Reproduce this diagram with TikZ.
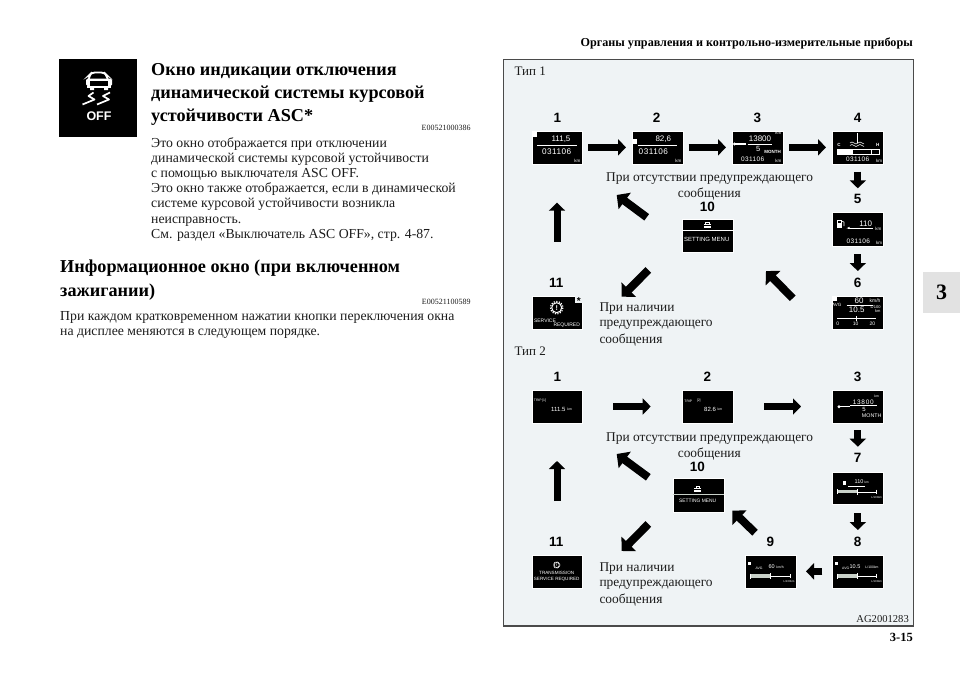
\documentclass[tikz,border=0pt]{standalone}
\usepackage{fontspec}
\setmainfont{Liberation Serif}
\newfontfamily\dfont{Liberation Sans}
\usetikzlibrary{arrows.meta}
\definecolor{panelbg}{HTML}{EFF3F5}
\definecolor{panelline}{HTML}{4A4A4A}
\definecolor{tabgrey}{HTML}{E2E2E2}
\definecolor{inktext}{HTML}{1C1C1C}
\definecolor{bargrey}{HTML}{C8D0C8}
\newcounter{dtn}
\newcommand\SZ[1]{\fontsize{#1}{#1}\selectfont}
% small white text inside a display
\newcommand\DT[4]{\stepcounter{dtn}\node[dtxt,font={\dfont\SZ{#3}}] (dt\arabic{dtn}) at (#1,#2) {#4};}
\newcommand\DTB[4]{\stepcounter{dtn}\node[dtxt,font={\dfont\bfseries\SZ{#3}}] (dt\arabic{dtn}) at (#1,#2) {#4};}
% display box by corners
\newcommand\DISP[5]{\node[dispbox,minimum width={(#4-#2)*1pt},minimum height={(#5-#3)*1pt}] (#1) at ({(#2+#4)/2},{(#3+#5)/2}) {};}
\newcommand\WRENCH[3]{\draw[white,line width=1.4] (#1,#2) -- ++(#3,0); \fill[white] (#1,#2) circle (1.6);}
\newcommand\TOOLBOX[3]{\fill[white] ({#1-4*#3},{#2-1.8*#3}) rectangle ({#1+4*#3},{#2+2.6*#3});
  \draw[white,line width=.8] ({#1-1.8*#3},{#2-1.8*#3}) -- ({#1-1.8*#3},{#2-3.2*#3}) -- ({#1+1.8*#3},{#2-3.2*#3}) -- ({#1+1.8*#3},{#2-1.8*#3});
  \draw[black,line width=.5] ({#1-4*#3},{#2+.2*#3}) -- ({#1+4*#3},{#2+.2*#3});}
\newcommand\SCALEBAR[6]{% x0 x1 x2 y fillcolor thick
  \draw[white,line width=.4] (#1,#4) -- (#3,#4);
  \fill[#5] (#1,{#4-#6/2}) rectangle (#2,{#4+#6/2});
  \draw[white,line width=.5] (#1,{#4-2.5}) -- (#1,{#4+2.5}) (#2,{#4-3}) -- (#2,{#4+3}) (#3,{#4-2}) -- (#3,{#4+2});}
\tikzset{
  dispbox/.style={rectangle,fill=black,draw=white,line width=.4pt,inner sep=0pt,outer sep=0pt},
  dtxt/.style={text=white,inner sep=0pt,outer sep=0pt},
  blockarrow/.style={line width=7pt,-{Triangle[length=8pt,width=16pt]},black},
  diagarrow/.style={line width=8pt,-{Triangle[length=10pt,width=20pt]},black},
  numlabel/.style={font={\dfont\bfseries\SZ{13.5}},text=black,inner sep=0pt,text height=9.6pt,text depth=0pt},
  bodyline/.style={anchor=base west,font=\SZ{13.75},text=inktext,inner sep=0pt},
  noteleft/.style={anchor=west,font=\SZ{13.4},text=inktext,inner sep=0pt},
  headline/.style={anchor=base west,font={\bfseries\SZ{18.2}},text=black,inner sep=0pt},
  coderef/.style={anchor=east,font=\SZ{8},text=inktext,inner sep=0pt},
}
\begin{document}
\begin{tikzpicture}[x=1pt,y=-1pt]
\useasboundingbox (0,0) rectangle (960,677);
\fill[white] (0,0) rectangle (960,677);

% page furniture
\node[anchor=base east,font={\bfseries\SZ{12.15}},inner sep=0pt] (header) at (913,47) {Органы управления и контрольно-измерительные приборы};
\node[anchor=base east,font={\bfseries\SZ{12.5}},inner sep=0pt] (pagenum) at (913,641) {3-15};
\node[rectangle,fill=tabgrey,minimum width=37pt,minimum height=41pt,inner sep=0pt,outer sep=0pt,font={\bfseries\SZ{22}}] (tab) at (941.5,292.5) {3};

% ASC OFF icon
\node[rectangle,fill=black,minimum width=78pt,minimum height=78pt,inner sep=0pt] (icon) at (98.3,98.3) {};
\draw[white,line width=1.8,rounded corners=3] (88.5,80) -- (90,74.5) -- (92,72.5) -- (104,72.5) -- (106,74.5) -- (108,80);
\fill[white,rounded corners=1.5] (86,78.5) rectangle (112,86);
\fill[black] (90,80.5) rectangle (108,86);
\fill[white] (90,86) rectangle (94,90) (104,86) rectangle (108,90);
\fill[white] (87,86) rectangle (111,88);
\draw[white,line width=1.7,line join=round] (93.5,92.5) -- (88.5,96) -- (94.5,99.5) -- (82.5,104.5);
\draw[white,line width=1.7,line join=round] (110,92.5) -- (103,96) -- (109,99.5) -- (97,104.5);
\node[font={\dfont\bfseries\SZ{12.5}},text=white,inner sep=0pt] (iconoff) at (99,116) {OFF};

% left text column
\node[headline] (h1a) at (151,75) {Окно индикации отключения};
\node[headline] (h1b) at (151,98) {динамической системы курсовой};
\node[headline] (h1c) at (151,121) {устойчивости ASC*};
\node[coderef] (code1) at (470.7,128) {E00521000386};
\node[bodyline] (b1l) at (151,147) {Это окно отображается при отключении};
\node[bodyline] (b2l) at (151,162.2) {динамической системы курсовой устойчивости};
\node[bodyline] (b3l) at (151,177.4) {с помощью выключателя ASC OFF.};
\node[bodyline] (b4l) at (151,192.6) {Это окно также отображается, если в динамической};
\node[bodyline] (b5l) at (151,207.8) {системе курсовой устойчивости возникла};
\node[bodyline] (b6l) at (151,223) {неисправность.};
\node[bodyline] (b7l) at (151,238.2) {См. раздел «Выключатель ASC OFF», стр. 4-87.};
\node[headline] (h2a) at (60,272) {Информационное окно (при включенном};
\node[headline] (h2b) at (60,296) {зажигании)};
\node[coderef] (code2) at (470.7,302.3) {E00521100589};
\node[bodyline] (b8l) at (60,320.5) {При каждом кратковременном нажатии кнопки переключения окна};
\node[bodyline] (b9l) at (60,335.7) {на дисплее меняются в следующем порядке.};

% panel
\node[rectangle,fill=panelbg,draw=panelline,line width=1.3pt,minimum width=410pt,minimum height=566.3pt,inner sep=0pt,outer sep=0pt] (panel) at (708.3,342.85) {};
\node[anchor=west,font=\SZ{13},text=inktext,inner sep=0pt] (typ1) at (514.3,71.7) {Тип 1};
\node[anchor=west,font=\SZ{13},text=inktext,inner sep=0pt] (typ2) at (514.3,351) {Тип 2};
\node[anchor=east,font=\SZ{10.6},text=inktext,inner sep=0pt] (agcode) at (909,618.7) {AG2001283};

% ---------- Type 1 displays
\DISP{a1}{531.7}{131}{582.3}{163.7}
\DISP{a2}{631.7}{131}{682.7}{163.7}
\DISP{a3}{732.3}{131}{782.7}{163.7}
\DISP{a4}{832.3}{131}{883.3}{163.7}
\DISP{a5}{832.3}{212.3}{883.3}{245.7}
\DISP{a6}{832.3}{295.7}{883.3}{328.7}
\DISP{a10}{682}{219}{732.7}{252.3}
\DISP{a11}{531.7}{295.7}{582.3}{328.7}

% a1
\fill[white] (532.7,132.3) rectangle (536.7,137);
\DT{561}{139.3}{8}{111,5}
\draw[white,line width=.5] (537.3,145.7) -- (576.7,145.7);
\DT{556.7}{152}{8.2}{\addfontfeature{LetterSpace=6}031106}
\DT{577.3}{161.3}{4.5}{km}
% a2
\fill[white] (633,138.5) rectangle (637,143.5);
\DT{663.3}{139.3}{8}{82,6}
\draw[white,line width=.5] (637.7,145.7) -- (676.7,145.7);
\DT{653.3}{152}{8.2}{\addfontfeature{LetterSpace=6}031106}
\DT{678.3}{161.3}{4.5}{km}
% a3
\WRENCH{734.5}{144}{11.5}
\DT{760}{138.7}{8}{13800}
\draw[white,line width=.5] (747.7,144.3) -- (771.7,144.3);
\DT{758.3}{149}{7.5}{5}
\DTB{772.7}{151.7}{4.5}{MONTH}
\DT{752.7}{159.3}{6.5}{\addfontfeature{LetterSpace=6}031106}
\DT{778.3}{133.3}{4.5}{km}
\DT{778.3}{161.3}{4.5}{km}
% a4
\draw[white,line width=1] (857.3,133.3) -- (857.3,142.5);
\draw[white,line width=.5] (850,143) sin (852,142) cos (854,143) sin (856,144) cos (858,143) sin (860,142) cos (862,143) sin (864,144);
\draw[white,line width=.5] (850,145.5) sin (852,144.5) cos (854,145.5) sin (856,146.5) cos (858,145.5) sin (860,144.5) cos (862,145.5) sin (864,146.5);
\DTB{839}{145}{4.5}{C}
\DTB{877.7}{145}{4.5}{H}
\draw[white,line width=.5] (837.3,149) rectangle (879,154);
\fill[white] (837.3,149) rectangle (853.3,154);
\draw[white,line width=.5] (871.7,149) -- (871.7,154);
\DT{857.7}{159.3}{6.5}{\addfontfeature{LetterSpace=6}031106}
\DT{879}{161.3}{4.5}{km}
% a5
\fill[white] (836.7,219.5) rectangle (841.5,228.3);
\fill[black] (837.7,220.5) rectangle (840.5,223);
\draw[white,line width=.6] (841.5,221) -- (844,222) -- (844,226);
\fill[white] (846.5,228.3) -- (849.5,226.8) -- (849.5,228.7) -- cycle;
\draw[white,line width=.5] (848,228.3) -- (873.3,228.3);
\DT{865.7}{223.7}{8}{110}
\DT{878.3}{229.3}{4.5}{km}
\DT{858.3}{241}{6.5}{\addfontfeature{LetterSpace=6}031106}
\DT{879}{242.7}{4.5}{km}
% a6
\fill[white] (833.2,296.5) rectangle (837.4,301);
\DT{836.7}{304.7}{4.6}{AVG}
\draw[white,line width=.5] (846.7,305.3) -- (872.7,305.3);
\DT{859}{300.5}{8}{60}
\DT{875}{301}{5}{km/h}
\DT{856.7}{310}{8}{10.5}
\DT{875.5}{307.5}{4}{L/100}
\DT{877.7}{311}{4}{km}
\fill[white] (837.3,317.5) rectangle (872,319);
\draw[white,line width=.4] (872,318.3) -- (876,318.3);
\draw[white,line width=.4] (855.7,316) -- (855.7,320.5);
\DT{837.7}{324}{5}{0}
\DT{855.7}{324}{5}{10}
\DT{872.3}{324}{5}{20}
% a10
\TOOLBOX{707.3}{225.5}{.9}
\draw[white,line width=.6] (682,230.3) -- (732.7,230.3);
\DT{706.7}{239.7}{6}{SETTING MENU}
% a11
\fill[panelbg] (575,295.3) rectangle (582.7,302.7);
\node[font={\dfont\bfseries\SZ{10}},text=black,inner sep=0pt] (a11star) at (578.7,300.6) {*};
\draw[white,line width=1] (556.7,307.7) circle (5);
\draw[white,line width=1.2,dash pattern=on 1.2pt off 1.4pt] (556.7,307.7) circle (6.2);
\DTB{556.7}{307.7}{7}{!}
\DT{545}{320.3}{5}{SERVICE}
\DT{566.7}{325.7}{5}{REQUIRED}

% ---------- Type 1 labels
\node[numlabel] (na1) at (557.3,117.3) {1};
\node[numlabel] (na2) at (656.7,117.3) {2};
\node[numlabel] (na3) at (757.3,117.3) {3};
\node[numlabel] (na4) at (857.7,117.3) {4};
\node[numlabel] (na5) at (857.7,198.7) {5};
\node[numlabel] (na6) at (857.7,282.3) {6};
\node[numlabel] (na10) at (707.3,207) {10};
\node[numlabel] (na11) at (556.3,282.3) {11};
\node[noteleft,anchor=center] (noa1) at (709.6,179) {При отсутствии предупреждающего};
\node[noteleft,anchor=center] (noa2) at (709.3,194.3) {сообщения};
\node[noteleft] (noa3) at (599.3,309) {При наличии};
\node[noteleft] (noa4) at (599.3,324.7) {предупреждающего};
\node[noteleft] (noa5) at (599.3,340) {сообщения};

% ---------- Type 1 connectors
\draw[blockarrow,shorten <=6pt,shorten >=5.7pt] (a1.east) -- (a2.west);
\draw[blockarrow,shorten <=6pt,shorten >=6.3pt] (a2.east) -- (a3.west);
\draw[blockarrow,shorten <=6.3pt,shorten >=6.3pt] (a3.east) -- (a4.west);
\draw[blockarrow,shorten <=8pt,shorten >=24pt] (a4.south) -- (a5.north);
\draw[blockarrow,shorten <=8.6pt,shorten >=24.7pt] (a5.south) -- (a6.north);
\draw[blockarrow,shorten <=54pt,shorten >=39pt] (a11.north) -- (a1.south);
\coordinate (a6t) at (792.7,298.3); \coordinate (a6h) at (766,271);
\coordinate (a10t) at (646.7,217.3); \coordinate (a10h) at (616.7,195);
\coordinate (a11t) at (648.3,270); \coordinate (a11h) at (621.7,296.7);
\draw[diagarrow] (a6t) -- (a6h);
\draw[diagarrow] (a10t) -- (a10h);
\draw[diagarrow] (a11t) -- (a11h);

% ---------- Type 2 displays
\DISP{b1}{531.7}{390.3}{582.3}{422.7}
\DISP{b2}{682}{390.3}{732.7}{422.7}
\DISP{b3}{832.3}{390.3}{883.3}{422.7}
\DISP{b7}{832.3}{471.7}{883.3}{504.3}
\DISP{b8}{832.3}{555}{883.3}{587.7}
\DISP{b9}{745}{555}{795.7}{587.7}
\DISP{b10}{672.7}{478.3}{723.7}{511.7}
\DISP{b11}{531.7}{555}{582.3}{587.7}

% b1
\DT{540}{401}{3.4}{TRIP\,[1]}
\DT{558.3}{409}{6}{111.5}
\DT{569.7}{409.7}{3.4}{km}
% b2
\DT{688.3}{401}{3.4}{TRIP}
\DT{698.7}{401}{3.4}{[2]}
\DT{710}{409}{6}{82.6}
\DT{720}{409.7}{3.4}{km}
% b3
\WRENCH{839}{406.7}{11}
\DT{863.3}{402.3}{6.5}{\addfontfeature{LetterSpace=10}13800}
\draw[white,line width=.5] (850,405.7) -- (876.7,405.7);
\DT{864}{409.3}{6}{5}
\DT{871.7}{415.7}{5.3}{MONTH}
\DT{876.7}{396.7}{3.4}{km}
% b7
\fill[white] (842.5,480.5) rectangle (846,484.5);
\DT{859}{481.7}{5.5}{110}
\DT{866.7}{482.7}{3.2}{km}
\draw[white,line width=.4] (848.3,485.7) -- (865,485.7);
\SCALEBAR{837.7}{857.7}{876.7}{491.7}{bargrey}{3.2}
\DT{876.7}{497.7}{2.8}{L/100km}
% b8
\fill[white] (835.3,562) rectangle (838.3,565);
\DT{845.7}{568.3}{3.4}{AVG}
\DT{855}{567}{5.5}{10.5}
\DT{872}{567.7}{3.4}{L/100km}
\SCALEBAR{837.7}{857.7}{876.7}{576}{bargrey}{3.2}
\DT{876.7}{581.7}{2.8}{L/100km}
% b9
\fill[white] (747.5,562) rectangle (750.5,565);
\DT{759}{568.3}{3.4}{AVG}
\DT{771.7}{567}{5.5}{60}
\DT{780}{567.7}{3.4}{km/h}
\SCALEBAR{750}{770.3}{790}{576}{bargrey}{3.2}
\DT{789}{581.7}{2.8}{L/100km}
% b10
\TOOLBOX{697.7}{489.3}{.85}
\draw[bargrey,line width=.8] (672.7,494.3) -- (723.7,494.3);
\DT{697.7}{500.7}{4.9}{SETTING MENU}
% b11
\draw[white,line width=.6] (556.7,565) circle (2.6);
\draw[white,line width=.6,dash pattern=on .6pt off .8pt] (556.7,565) circle (3.3);
\DTB{556.7}{565}{3.6}{!}
\DT{556.7}{573.3}{4.6}{TRANSMISSION}
\DT{556.7}{579.3}{4.6}{SERVICE REQUIRED}

% ---------- Type 2 labels
\node[numlabel] (nb1) at (557.3,376.7) {1};
\node[numlabel] (nb2) at (707.3,376.7) {2};
\node[numlabel] (nb3) at (857.7,376.7) {3};
\node[numlabel] (nb7) at (857.7,458) {7};
\node[numlabel] (nb8) at (857.7,541.7) {8};
\node[numlabel] (nb9) at (770.3,541.7) {9};
\node[numlabel] (nb10) at (697.3,466.3) {10};
\node[numlabel] (nb11) at (556.3,541.7) {11};
\node[noteleft,anchor=center] (nob1) at (709.6,438.3) {При отсутствии предупреждающего};
\node[noteleft,anchor=center] (nob2) at (709.3,453.7) {сообщения};
\node[noteleft] (nob3) at (599.3,569) {При наличии};
\node[noteleft] (nob4) at (599.3,584.7) {предупреждающего};
\node[noteleft] (nob5) at (599.3,600) {сообщения};

% ---------- Type 2 connectors
\draw[blockarrow,shorten <=31pt,shorten >=31.3pt] (b1.east) -- (b2.west);
\draw[blockarrow,shorten <=31.3pt,shorten >=31.3pt] (b2.east) -- (b3.west);
\draw[blockarrow,shorten <=7.3pt,shorten >=25pt] (b3.south) -- (b7.north);
\draw[blockarrow,shorten <=9pt,shorten >=25pt] (b7.south) -- (b8.north);
\draw[blockarrow,shorten <=10pt,shorten >=10.3pt] (b8.west) -- (b9.east);
\draw[blockarrow,shorten <=54pt,shorten >=38.3pt] (b11.north) -- (b1.south);
\coordinate (b9t) at (755,532.7); \coordinate (b9h) at (732.3,510.7);
\coordinate (b10t) at (648.3,477.3); \coordinate (b10h) at (616.7,454);
\coordinate (b11t) at (648.3,524); \coordinate (b11h) at (621.7,551);
\draw[diagarrow] (b9t) -- (b9h);
\draw[diagarrow] (b10t) -- (b10h);
\draw[diagarrow] (b11t) -- (b11h);
\end{tikzpicture}
\end{document}
